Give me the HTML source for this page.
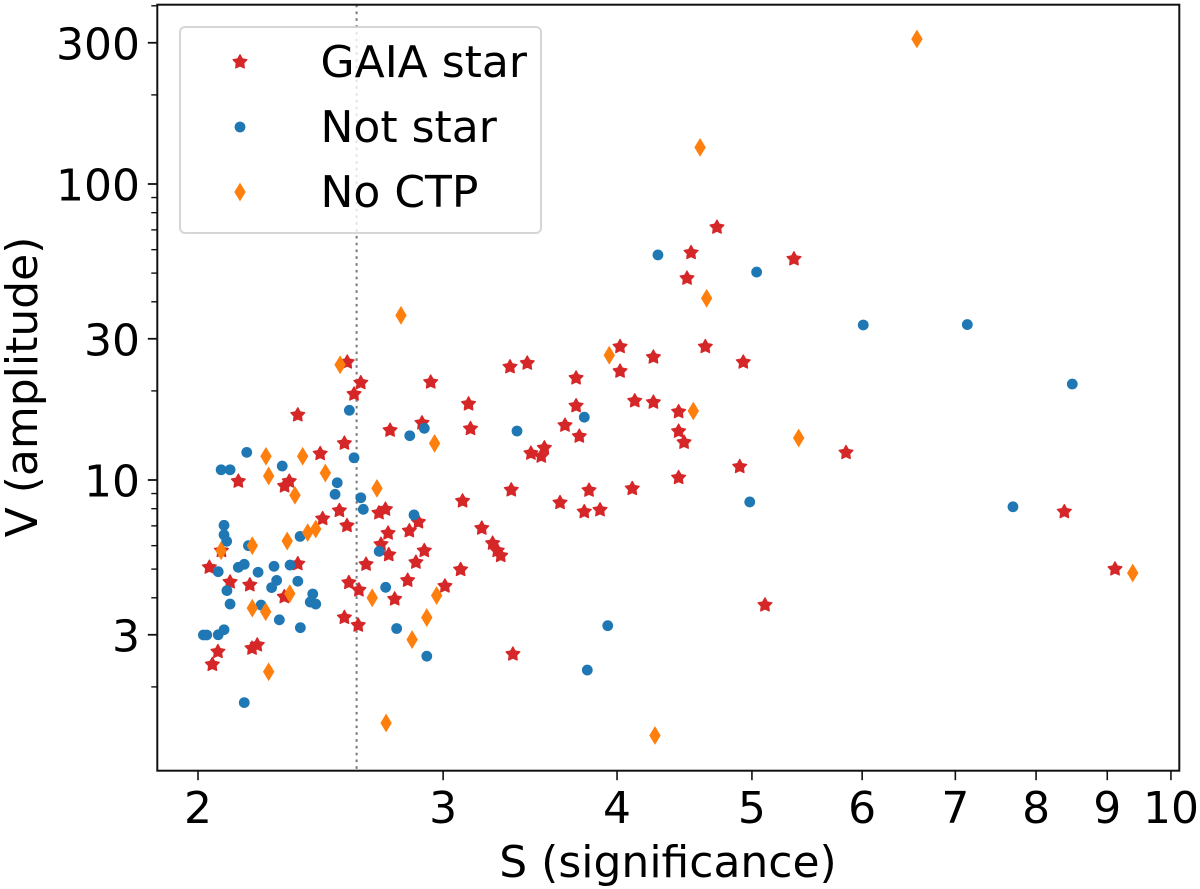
<!DOCTYPE html>
<html lang="en">
<head>
<meta charset="utf-8">
<title>V amplitude vs S significance</title>
<style>
html,body{margin:0;padding:0;background:#fff;}
svg{display:block;}
text{font-family:"DejaVu Sans","Liberation Sans",sans-serif;fill:#000;}
</style>
</head>
<body>
<svg id="chart" xmlns="http://www.w3.org/2000/svg" width="1200" height="889" viewBox="0 0 1200 889">
  <rect x="157.3" y="4.7" width="1022" height="766" fill="#fff"/>
  <g id="threshold-layer"></g>
  <g id="gaia-layer"></g>
  <g id="notstar-layer"></g>
  <g id="noctp-layer"></g>
  <g id="axes-layer"></g>
  <text x="668" y="877" font-size="44" text-anchor="middle">S (significance)</text>
  <text transform="translate(37,387) rotate(-90)" font-size="44" text-anchor="middle">V (amplitude)</text>
  <g id="legend">
    <rect x="180" y="27" width="361" height="206" rx="5" ry="5" fill="#fff" fill-opacity="0.8" stroke="#ccc" stroke-opacity="0.8" stroke-width="2"/>
    <g id="legend-markers"></g>
    <text x="320.5" y="77" font-size="44">GAIA star</text>
    <text x="320.5" y="142" font-size="44">Not star</text>
    <text x="320.5" y="207" font-size="44">No CTP</text>
  </g>
</svg>
<script>
var gaiaS = [2.359,3.129,3.139,2.897,2.748,2.548,2.448,2.138,2.326,2.308,2.527,2.458,2.559,2.727,2.698,3.098,3.198,3.256,3.281,3.300,2.880,2.837,2.739,2.707,2.742,2.908,2.868,2.641,3.088,3.009,2.829,2.567,2.610,2.769,2.359,2.038,2.109,2.179,2.307,2.079,2.548,2.607,2.206,2.187,2.067,2.048,2.560,2.618,2.589,2.939,3.351,3.448,3.738,4.020,4.020,4.248,4.119,4.248,3.738,3.670,3.758,3.547,3.469,3.529,3.358,3.819,4.102,3.640,3.789,3.889,5.109,3.367,4.719,4.521,4.491,5.360,4.629,4.929,4.429,4.429,4.469,4.900,4.429,5.842,8.383,9.116];
var gaiaV = [16.58,18.06,14.9,15.58,14.72,13.3,12.27,9.9,9.9,9.54,7.88,7.4,7.01,7.96,7.74,8.49,6.87,6.11,5.77,5.55,7.21,6.73,6.61,6.06,5.59,5.77,5.27,5.19,4.98,4.38,4.58,4.5,4.25,3.96,5.21,5.07,4.52,4.42,4.03,5.77,3.43,3.23,2.77,2.7,2.63,2.38,25.0,21.3,19.5,21.4,24.1,24.8,22.1,28.2,23.3,26.0,18.5,18.3,17.8,15.3,14.05,12.83,12.31,12.03,9.25,9.23,9.35,8.38,7.81,7.92,3.78,2.58,71.4,58.6,48.0,55.8,28.2,25.0,17.0,14.6,13.4,11.09,10.18,12.37,7.81,5.0];
var notStarS = [2.569,2.908,2.839,2.589,2.168,2.078,2.109,2.299,2.518,2.509,2.618,2.629,2.859,2.088,2.088,2.097,2.174,2.368,2.699,2.068,2.138,2.159,2.209,2.268,2.329,2.359,2.278,2.259,2.728,2.098,2.109,2.220,2.418,2.408,2.430,2.288,2.369,2.778,2.088,2.068,2.018,2.029,2.920,2.159,4.280,5.039,6.011,7.140,8.494,3.390,3.789,4.982,7.700,3.939,3.808];
var notStarV = [17.2,14.95,14.11,11.89,12.4,10.83,10.83,11.15,9.79,8.95,8.71,7.96,7.62,7.03,6.53,6.21,6.0,6.45,5.74,4.9,5.07,5.19,4.88,5.11,5.16,4.55,4.58,4.33,4.34,4.23,3.81,3.78,4.12,3.87,3.81,3.37,3.17,3.15,3.12,3.0,2.995,2.995,2.54,1.77,57.6,50.4,33.4,33.5,21.1,14.64,16.3,8.43,8.12,3.22,2.28];
var noCtpS = [2.238,2.378,2.248,2.469,2.689,2.348,2.958,2.430,2.398,2.318,2.188,2.078,2.328,2.968,2.668,2.188,2.237,2.920,2.850,2.248,2.730,2.798,2.530,3.949,4.259,4.538,4.639,4.589,6.569,5.402,9.387];
var noCtpV = [12.03,12.03,10.32,10.56,9.37,8.88,13.3,6.83,6.64,6.22,6.0,5.77,4.13,4.07,4.0,3.69,3.59,3.43,2.89,2.25,1.51,36.0,24.5,26.4,1.37,17.1,41.1,133,309,13.86,4.85];
var xTickValues = [2,3,4,5,6,7,8,9,10];
var xTickLabels = ["2","3","4","5","6","7","8","9","10"];
var yMajorValues = [3,10,30,100,300];
var yMajorLabels = ["3","10","30","100","300"];
var yMinorValues = [2,4,5,6,7,8,9,20,40,50,60,70,80,90,200,400];
var thresholdS = [2.6];

var NS = 'http://www.w3.org/2000/svg';
var plotLeft = 157.3, plotRight = 1179.3, plotTop = 4.7, plotBottom = 770.7;

function xAxis(s) { return 198 + 1392 * Math.log10(s / 2); }
function yAxis(v) { return 480 - 296 * Math.log10(v / 10); }

function make(tag, attrs, parent) {
  var el = document.createElementNS(NS, tag);
  for (var k in attrs) { el.setAttribute(k, attrs[k]); }
  parent.appendChild(el);
  return el;
}

function starPoints(cx, cy) {
  var pts = [], R = 7.3, r = 3.9;
  for (var i = 0; i < 10; i++) {
    var a = -Math.PI / 2 + i * Math.PI / 5;
    var q = i % 2 === 0 ? R : r;
    pts.push((cx + q * Math.cos(a)).toFixed(2) + ',' + (cy + q * Math.sin(a)).toFixed(2));
  }
  return pts.join(' ');
}
function diamondPoints(cx, cy) {
  var w = 5.7, h = 9.4;
  return [cx + ',' + (cy - h), (cx + w) + ',' + cy, cx + ',' + (cy + h), (cx - w) + ',' + cy].join(' ');
}

function drawStar(parent, cx, cy) {
  var el = make('polygon', {points: starPoints(cx, cy), fill: '#d62728', stroke: '#d62728', 'stroke-width': 1.2, 'stroke-linejoin': 'round'}, parent);
  
  
}
function drawCircle(parent, cx, cy) {
  var el = make('circle', {cx: cx, cy: cy, r: 5.4, fill: '#1f77b4'}, parent);
  
  
}
function drawDiamond(parent, cx, cy) {
  var el = make('polygon', {points: diamondPoints(cx, cy), fill: '#ff7f0e'}, parent);
  
  
}

var thresholdLayer = document.getElementById('threshold-layer');
thresholdS.forEach(function (s) {
  var line = make('line', {x1: xAxis(s), x2: xAxis(s), y1: plotTop, y2: plotBottom, stroke: '#777', 'stroke-width': 2, 'stroke-dasharray': '2.6 4.2'}, thresholdLayer);
  
  
});

var gaiaLayer = document.getElementById('gaia-layer');
gaiaS.forEach(function (s, i) { drawStar(gaiaLayer, xAxis(s), yAxis(gaiaV[i])); });
var notStarLayer = document.getElementById('notstar-layer');
notStarS.forEach(function (s, i) { drawCircle(notStarLayer, xAxis(s), yAxis(notStarV[i])); });
var noCtpLayer = document.getElementById('noctp-layer');
noCtpS.forEach(function (s, i) { drawDiamond(noCtpLayer, xAxis(s), yAxis(noCtpV[i])); });

var axes = document.getElementById('axes-layer');
var frame = make('rect', {x: plotLeft, y: plotTop, width: plotRight - plotLeft, height: plotBottom - plotTop, fill: 'none', stroke: '#111', 'stroke-width': 2}, axes);



xTickValues.forEach(function (t, i) {
  var px = xAxis(t);
  var tick = make('line', {x1: px, x2: px, y1: plotBottom, y2: plotBottom + 9.5, stroke: '#111', 'stroke-width': 1.6}, axes);
  
  
  var label = make('text', {x: px, y: 823, 'font-size': 44, 'text-anchor': 'middle'}, axes);
  
  
  label.textContent = xTickLabels[i];
});

yMajorValues.forEach(function (t, i) {
  var py = yAxis(t);
  var tick = make('line', {x1: plotLeft - 9.5, x2: plotLeft, y1: py, y2: py, stroke: '#111', 'stroke-width': 1.8}, axes);
  
  
  var label = make('text', {x: 140, y: py + 16.5, 'font-size': 44, 'text-anchor': 'end'}, axes);
  
  
  label.textContent = yMajorLabels[i];
});
yMinorValues.forEach(function (t) {
  var py = yAxis(t);
  var tick = make('line', {x1: plotLeft - 6, x2: plotLeft, y1: py, y2: py, stroke: '#111', 'stroke-width': 1.4}, axes);
  
  
});

var legendMarkers = document.getElementById('legend-markers');
drawStar(legendMarkers, 240, 62);
drawCircle(legendMarkers, 240, 127);
drawDiamond(legendMarkers, 240, 192);
</script>
</body>
</html>
